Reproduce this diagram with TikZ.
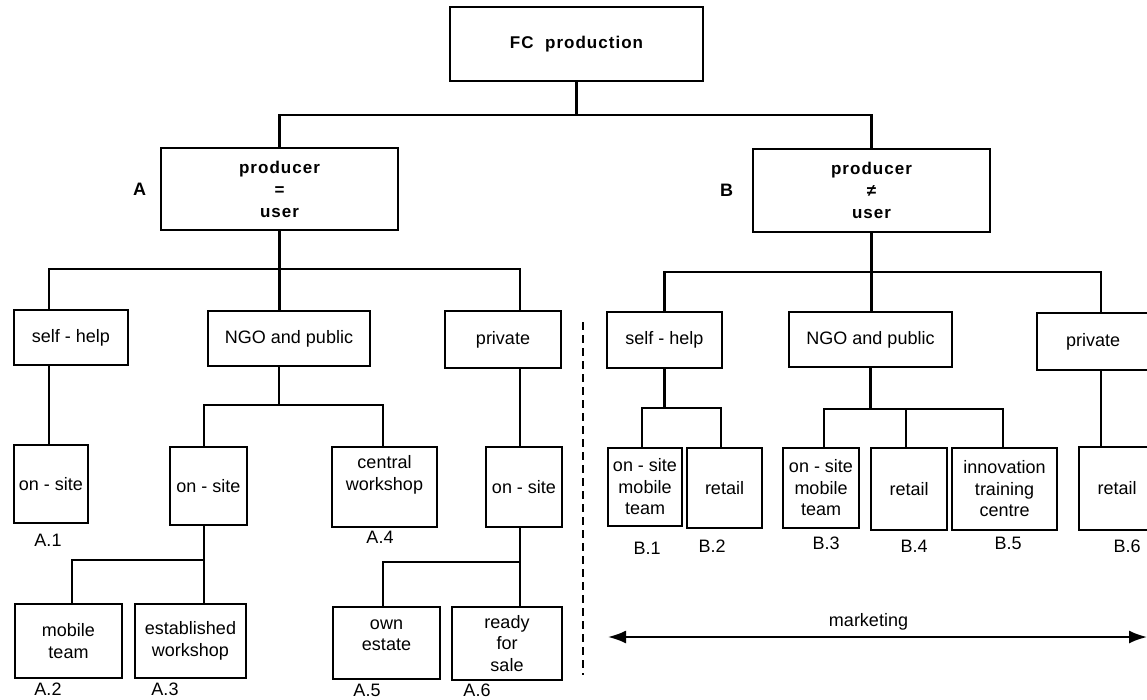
\documentclass[tikz,border=0pt]{standalone}
\usepackage{fontspec}
\setmainfont{Liberation Sans}
\newfontfamily\spaced[LetterSpace=6]{Liberation Sans}
\usetikzlibrary{arrows.meta,positioning}

\begin{document}
\begin{tikzpicture}[x=1pt, y=-1pt, >={Latex[length=18pt,width=13pt]},
  every node/.style={font=\fontsize{18}{21.5}\selectfont},
  box/.style 2 args={draw, line width=2.3pt, align=center, inner sep=2pt, minimum width=#1, minimum height=#2},
  head/.style 2 args={box={#1}{#2}, line width=2.8pt, font=\fontsize{17}{22}\selectfont\spaced\bfseries},
  link/.style={line width=2.1pt},
  tag/.style={inner sep=0pt}]

  \useasboundingbox (0,0) rectangle (1147,700);

  % ===== Top level: FC production and the two branches =====
  \node[head={253pt}{74pt}] (fc) at (576.5,44) {FC\ \ production};
  \node[head={237pt}{82pt}] (pa) at (279.5,189) {producer\\=\\user};
  \node[head={237pt}{83pt}] (pb) at (871.5,190.5) {producer\\≠\\user};
  \node[font=\fontsize{18}{20}\selectfont\bfseries, left=10pt of pa] (la) {A};
  \node[font=\fontsize{18}{20}\selectfont\bfseries, left=15pt of pb] (lb) {B};

  \coordinate (busTop) at (576.5,115);
  \draw[link] (fc) -- (busTop);
  \draw[link] (pa.north) |- (busTop) -| (pb.north);

  % ===== Second level =====
  \node[box={114pt}{55pt}] (sa)  at (71,337.5)    {self - help};
  \node[box={162pt}{55pt}] (na)  at (289,338.5)   {NGO and public};
  \node[box={116pt}{57pt}] (pva) at (503,339.5)   {private};
  \node[box={115pt}{56pt}] (sb)  at (664.5,340)   {self - help};
  \node[box={163pt}{55pt}] (nb)  at (870.5,339.5) {NGO and public};
  \node[box={112pt}{57pt}] (pvb) at (1093,341.5)  {private};

  \coordinate (busA) at (279.5,269);
  \draw[link] (pa) -- (busA) -- (busA |- na.north);
  \draw[link] ([xshift=-22pt]sa.north) |- (busA) -| ([xshift=17pt]pva.north);

  \coordinate (busB) at (871.5,272);
  \draw[link] (pb) -- (busB) -- (busB |- nb.north);
  \draw[link] (sb.north) |- (busB) -| ([xshift=8pt]pvb.north);

  % ===== Branch A: producer = user =====
  \node[box={74pt}{78pt}]  (a1) at (51,484)    {on - site};
  \node[box={77pt}{78pt}]  (oa) at (208.5,486) {on - site};
  \node[box={105pt}{80pt}] (a4) at (384.5,487) {central\\workshop\\\strut};
  \node[box={76pt}{80pt}]  (op) at (524,487)   {on - site};

  \draw[link] ([xshift=-22pt]sa.south) -- ([xshift=-22pt]sa.south |- a1.north);
  \coordinate (busNA) at (279,405);
  \draw[link] ([xshift=-10pt]na.south) -- (busNA);
  \draw[link] ([xshift=-4.5pt]oa.north) |- (busNA) -| ([xshift=-1.5pt]a4.north);
  \draw[link] ([xshift=17pt]pva.south) -- ([xshift=17pt]pva.south |- op.north);

  \node[box={107pt}{74pt}] (a2) at (68.5,641)  {mobile\\team};
  \node[box={111pt}{74pt}] (a3) at (190.5,641) {established\\workshop};
  \node[box={107pt}{72pt}] (a5) at (386.5,643) {own\\estate\\[-12pt]\strut};
  \node[box={110pt}{73pt}] (a6) at (507,643.5) {ready\\for\\sale};

  \coordinate (busOA) at (204,560);
  \draw[link] ([xshift=-4.5pt]oa.south) -- ([xshift=13.5pt]a3.north);
  \draw[link] ([xshift=3.5pt]a2.north) |- (busOA);
  \coordinate (busOP) at (520,562);
  \draw[link] ([xshift=-4pt]op.south) -- ([xshift=13pt]a6.north);
  \draw[link] ([xshift=-3.5pt]a5.north) |- (busOP);

  % ===== Branch B: producer =/= user =====
  \node[box={74pt}{78pt}]  (b1) at (645,487)    {on - site\\mobile\\team};
  \node[box={75pt}{80pt}]  (b2) at (724.5,488)  {retail};
  \node[box={76pt}{80pt}]  (b3) at (821,488)    {on - site\\mobile\\team};
  \node[box={76pt}{82pt}]  (b4) at (909,489)    {retail};
  \node[box={105pt}{82pt}] (b5) at (1004.5,489) {innovation\\training\\centre};
  \node[box={76pt}{83pt}]  (b6) at (1117,488.5) {retail};

  \coordinate (busSB) at (664.5,408);
  \draw[link] (sb) -- (busSB);
  \draw[link] ([xshift=-3pt]b1.north) |- (busSB) -| ([xshift=-3.5pt]b2.north);
  \coordinate (busNB) at (870.5,409);
  \draw[link] (nb) -- (busNB);
  \draw[link] ([xshift=3pt]b3.north) |- (busNB) -| ([xshift=-1.5pt]b5.north);
  \draw[line width=1.1pt] ([xshift=-3pt]b4.north) -- ([xshift=-3pt]b4.north |- busNB);
  \draw[link] ([xshift=8pt]pvb.south) -- ([xshift=8pt]pvb.south |- b6.north);

  % case numbers
  \node[tag] (ta1) at (48,540)  {A.1};
  \node[tag] (ta4) at (380,537) {A.4};
  \node[tag] (ta2) at (48,689)  {A.2};
  \node[tag] (ta3) at (165,689) {A.3};
  \node[tag] (ta5) at (367,690) {A.5};
  \node[tag] (ta6) at (477,690) {A.6};
  \node[tag] (tb1) at (647,548)  {B.1};
  \node[tag] (tb2) at (712,546)  {B.2};
  \node[tag] (tb3) at (826,543)  {B.3};
  \node[tag] (tb4) at (914,546)  {B.4};
  \node[tag] (tb5) at (1008,543) {B.5};
  \node[tag] (tb6) at (1127,546) {B.6};

  % ===== Separator and marketing arrow =====
  \coordinate (sepTop) at (583,322);
  \coordinate (sepBot) at (583,675);
  \draw[line width=1.6pt, dash pattern=on 8pt off 5pt] (sepTop) -- (sepBot);

  \coordinate (mktL) at (608,637);
  \coordinate (mktR) at (1147,637);
  \draw[<->, link] (mktL) -- (mktR) node[midway, above=2pt, xshift=-9pt] (mkt) {marketing};

\end{tikzpicture}
\end{document}
